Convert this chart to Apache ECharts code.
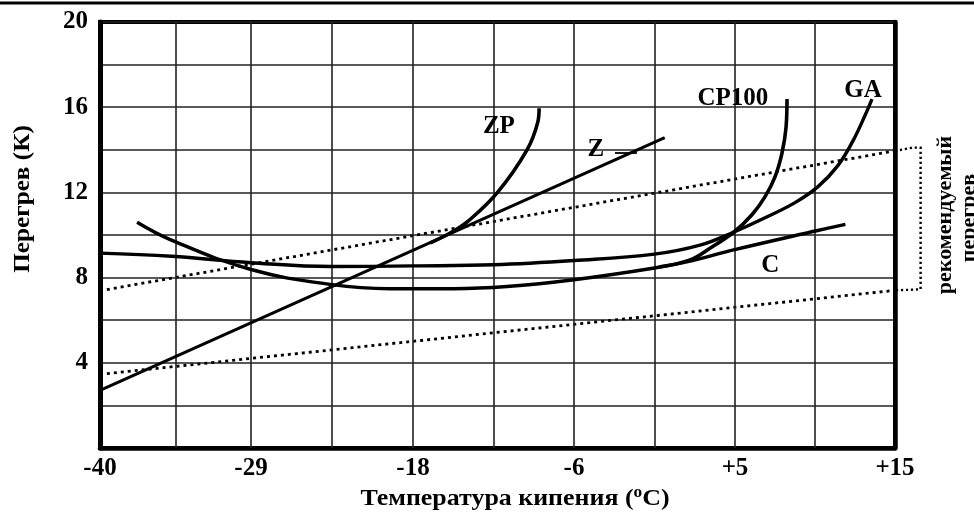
<!DOCTYPE html>
<html><head><meta charset="utf-8">
<script src="https://cdn.jsdelivr.net/npm/echarts@6/dist/echarts.min.js"></script>
<style>html,body{margin:0;padding:0;background:#fff}#c{width:974px;height:517px}</style>
</head><body><div id="c"></div>
<script>
// ---------- DATA (temperature °C, superheat K) ----------
const xTickTemps  = [-40, -29, -18, -6, 5, 15];
const xTickLabels = ['-40', '-29', '-18', '-6', '+5', '+15'];
const yTickLabels = [4, 8, 12, 16, 20];

const curveZ     = [[-40, 2.7], [0.2, 14.57]];
const curveZP    = [[-16.7, 9.63], [-15.1, 10.14], [-13.8, 10.7], [-11.7, 12], [-9.5, 14], [-8.7, 15.3], [-8.6, 15.95]];
const curveGA    = [[-40, 9.15], [-34.8, 9.0], [-29, 8.7], [-23.5, 8.52], [-18, 8.55], [-12, 8.6], [-6, 8.8], [-0.5, 9.1], [2.61, 9.52], [4.93, 10.14], [6.88, 10.81], [8.75, 11.52], [10.19, 12.27], [11.44, 13.27], [12.38, 14.43], [13.13, 15.62], [13.56, 16.38]];
const curveC     = [[-37.3, 10.6], [-34.8, 9.76], [-29, 8.38], [-23.5, 7.67], [-19.6, 7.48], [-15, 7.48], [-11, 7.58], [-6, 7.9], [-0.5, 8.45], [2.1, 8.8], [4.9, 9.3], [10.1, 10.2], [11.9, 10.5]];
const curveCP100 = [[-0.2, 8.5], [1.93, 8.83], [3.29, 9.38], [4.93, 10.14], [6.06, 10.95], [6.88, 11.8], [7.5, 12.73], [7.94, 13.86], [8.19, 15.05], [8.25, 16.38]];
const upperLimit = [[-39.5, 7.44], [15, 13.95]];
const lowerLimit = [[-39.5, 3.49], [15, 7.4]];
const bracket    = [[15, 13.95], [16.1, 14.1], [16.6, 14.1], [16.6, 7.45], [15, 7.4]];
const zLeader    = [[-3.2, 13.85], [-1.7, 13.85]];

const curveNames = ['ZP', 'Z', 'CP100', 'GA', 'C'];

// ---------- LAYOUT ----------
const xTickPos = [0, 151, 313, 474, 635, 795];   // axis positions of temperature ticks
const labelAnchors = { ZP: [-11.6, 15.1], Z: [-4.5, 14.0], CP100: [4.85, 16.4], GA: [13.0, 16.8], C: [7.2, 8.55] };
const FONT = 'Liberation Serif';

function toU(t) {
  const n = xTickTemps.length;
  let i = 0;
  if (t >= xTickTemps[n - 1]) i = n - 2;
  else { while (i < n - 2 && t > xTickTemps[i + 1]) i++; }
  const t0 = xTickTemps[i], t1 = xTickTemps[i + 1], p0 = xTickPos[i], p1 = xTickPos[i + 1];
  return p0 + (t - t0) * (p1 - p0) / (t1 - t0);
}
const mapPts = pts => pts.map(p => [toU(p[0]), p[1]]);

const gridLinePos = [];
for (let i = 0; i < xTickPos.length - 1; i++) {
  if (i > 0) gridLinePos.push(xTickPos[i]);
  gridLinePos.push((xTickPos[i] + xTickPos[i + 1]) / 2);
}

const chart = echarts.init(document.getElementById('c'), null, { renderer: 'canvas' });

const solid = (name, pts, w) => ({
  name, type: 'line', data: mapPts(pts), smooth: 0.4, symbol: 'none', z: 5,
  lineStyle: { color: '#000', width: w }, animation: false
});
const dotted = (name, pts, w, dash) => ({
  name, type: 'line', data: mapPts(pts), symbol: 'none', z: 4,
  lineStyle: { color: '#000', width: w, type: dash }, animation: false
});

chart.setOption({
  animation: false,
  backgroundColor: '#fff',
  grid: { left: 100, right: 79, top: 22, bottom: 69, show: true, borderColor: '#000', borderWidth: 4, backgroundColor: 'transparent' },
  xAxis: {
    type: 'value', min: 0, max: 795,
    axisLine: { show: true, lineStyle: { color: '#000', width: 4.5 } },
    axisTick: { show: false },
    splitLine: { show: false },
    axisLabel: {
      customValues: xTickPos,
      formatter: v => { const k = xTickPos.indexOf(v); return k >= 0 ? xTickLabels[k] : ''; },
      color: '#000', fontFamily: FONT, fontWeight: 'bold', fontSize: 25, margin: 8
    }
  },
  yAxis: [{
    type: 'value', min: 0, max: 20, interval: 2,
    axisLine: { show: true, lineStyle: { color: '#000', width: 5 } },
    axisTick: { show: false },
    splitLine: { show: true, lineStyle: { color: '#222', width: 1.6 } },
    axisLabel: {
      formatter: v => yTickLabels.indexOf(v) >= 0 ? String(v) : '',
      color: '#000', fontFamily: FONT, fontWeight: 'bold', fontSize: 25, margin: 12
    }
  }, {
    type: 'value', min: 0, max: 20, position: 'right',
    axisLine: { show: true, lineStyle: { color: '#000', width: 4.5 } },
    axisTick: { show: false }, axisLabel: { show: false }, splitLine: { show: false }
  }],
  series: [
    {
      name: 'grid', type: 'line', data: [], z: 1, silent: true,
      markLine: {
        silent: true, symbol: ['none', 'none'], label: { show: false }, animation: false,
        lineStyle: { color: '#222', width: 1.6, type: 'solid' },
        data: gridLinePos.map(u => ({ xAxis: u }))
      }
    },
    dotted('upper', upperLimit, 2.8, [3, 4]),
    dotted('lower', lowerLimit, 2.8, [3, 4]),
    solid('Z', curveZ, 3),
    solid('Z leader', zLeader, 1.8),
    solid('ZP', curveZP, 3.6),
    solid('GA', curveGA, 3.4),
    solid('C', curveC, 3.4),
    solid('CP100', curveCP100, 3.6)
  ]
});

const px = p => chart.convertToPixel({ xAxisIndex: 0, yAxisIndex: 0 }, [toU(p[0]), p[1]]);

const graphics = [
  { type: 'line', shape: { x1: 0, y1: 3, x2: 974, y2: 3 }, style: { stroke: '#000', lineWidth: 3 } },
  { type: 'polyline', z: 4, shape: { points: bracket.map(px) },
    style: { stroke: '#000', lineWidth: 2.4, lineDash: [2.2, 2.8], fill: null } },
  { type: 'text', x: 515, y: 499, scaleX: 1.08, style: {
      text: '{a|Температура кипения (}{s|o}{a|C)}', align: 'center', verticalAlign: 'middle',
      rich: {
        a: { fontFamily: FONT, fontWeight: 'bold', fontSize: 24, fill: '#000', lineHeight: 28 },
        s: { fontFamily: FONT, fontWeight: 'bold', fontSize: 16, fill: '#000', lineHeight: 28, verticalAlign: 'top', padding: [0, 0, 12, 0] }
      } } },
  { type: 'text', x: 23, y: 199, rotation: Math.PI / 2, scaleX: 1.05, style: {
      text: 'Перегрев (К)', align: 'center', verticalAlign: 'middle',
      fontFamily: FONT, fontWeight: 'bold', fontSize: 24, fill: '#000' } },
  { type: 'text', x: 945, y: 215, rotation: Math.PI / 2, style: {
      text: 'рекомендуемый', align: 'center', verticalAlign: 'middle',
      fontFamily: FONT, fontWeight: 'bold', fontSize: 22, fill: '#000' } },
  { type: 'text', x: 969, y: 218, rotation: Math.PI / 2, style: {
      text: 'перегрев', align: 'center', verticalAlign: 'middle',
      fontFamily: FONT, fontWeight: 'bold', fontSize: 22, fill: '#000' } }
];
curveNames.forEach(n => {
  const p = px(labelAnchors[n]);
  graphics.push({ type: 'text', x: p[0], y: p[1], z: 10, style: {
    text: n, align: 'center', verticalAlign: 'middle',
    fontFamily: FONT, fontWeight: 'bold', fontSize: 25, fill: '#000' } });
});
chart.setOption({ graphic: graphics });
</script></body></html>
